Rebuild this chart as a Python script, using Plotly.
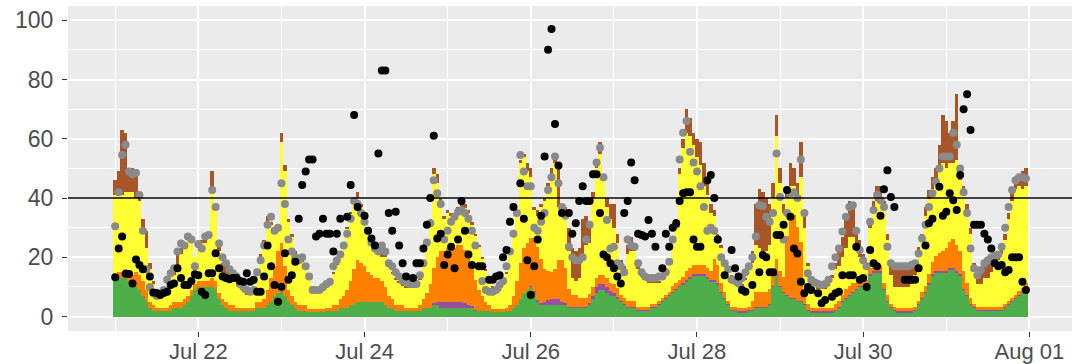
import pandas as pd
import plotly.graph_objects as go

# ---------------- data (hourly, Jul 21 00:00 .. Jul 31 23:00) ----------------
start_time = "2021-07-21 00:00"
n_hours = 264

green = [
    13, 13, 13, 13, 12, 10, 10, 9, 7, 5, 3, 2, 2, 2, 2, 2, 2, 3, 3, 3, 4, 5, 7, 9,
    10, 10, 10, 10, 10, 9, 6, 4, 3, 2, 2, 2, 2, 2, 2, 2, 2, 3, 3, 3, 4, 5, 7, 8,
    9, 7, 5, 4, 3, 2, 2, 2, 1.5, 1.5, 1.5, 1.5, 1.5, 2, 2, 2, 2, 3, 3, 3, 4, 4, 5, 5,
    5, 5, 5, 5, 5, 5, 4, 3, 3, 2, 2, 2, 2, 2, 2, 2, 2, 3, 3, 3, 4, 4, 3, 3,
    3, 3, 3, 3, 3, 3, 3, 3, 2, 2, 2, 2, 2, 1.5, 1.5, 1.5, 1.5, 2, 2, 3, 4, 6, 8, 9,
    10, 8, 5, 4, 4, 4, 4, 4, 4, 4, 4, 3, 3, 3, 3, 3, 3, 4, 6, 8, 9, 9, 8, 7,
    7, 6, 5, 4, 3, 3, 3, 2, 2, 2, 2, 3, 3, 4, 5, 6, 7, 8, 9, 10, 11, 12, 13, 14,
    14, 14, 14, 13, 12, 12, 11, 8, 6, 4, 2, 2, 1.5, 1.5, 1.5, 2, 2, 3, 3, 3, 3, 4, 10, 14,
    10, 8, 7, 6, 6, 5, 5, 4, 2, 1.5, 1.5, 1.5, 1.5, 1.5, 1.5, 1.5, 2, 3, 5, 6, 7, 8, 9, 10,
    10, 10, 14, 15, 15, 15, 9, 5, 3, 2, 1.5, 1.5, 1.5, 1.5, 1.5, 2, 4, 6, 8, 11, 14, 15, 15, 15,
    15, 16, 16, 15, 14, 9, 7, 4, 3, 2, 2, 2, 2, 2, 2, 2, 2, 3, 4, 5, 6, 7, 8, 9,
]

purple = (
    [0] * 24
    + [0] * 24
    + [0] * 24
    + [0] * 20 + [0.5, 1, 2, 2]
    + [2, 2, 2, 2, 2, 1.5, 1, 0.5, 0.3] + [0] * 15
    + [0.5, 0.5, 0.5, 0.5, 1, 1.5, 2, 2, 2, 1, 0.5, 0.3, 0.3, 0.3, 0.3, 0.3, 0.3, 0.5, 1, 2, 2, 2, 2, 1.5]
    + [1, 0.5] + [0.3] * 17 + [0.5] * 5
    + [0.5] * 5 + [0.3] * 19
    + [0.3] * 24
    + [0.3] * 24
    + [0.3] * 24
)

orange = [
    1, 2, 2, 3, 3, 4, 5, 5, 5, 4, 2, 2, 1, 1, 1, 1, 2, 2, 2, 2, 2, 2, 2, 2,
    2, 2, 2, 2, 3, 3, 2, 2, 2, 2, 2, 1, 1, 1, 1, 1, 1, 2, 2, 3, 5, 8, 10, 14,
    16, 10, 4, 3, 2, 2, 2, 2, 1, 1, 1, 1, 1, 1, 1, 2, 2, 3, 4, 6, 8, 12, 14, 13,
    12, 10, 9, 8, 8, 7, 6, 4, 3, 2, 2, 2, 1, 1, 1, 1, 2, 3, 5, 8, 12, 15, 17, 17,
    18, 18, 18, 19, 19, 18, 16, 13, 10, 7, 5, 3, 2, 1, 1, 1, 1, 1, 2, 4, 8, 12, 15, 16,
    16, 18, 18, 15, 11, 10, 9, 10, 13, 14, 12, 6, 4, 4, 3, 3, 3, 3, 3, 3, 3, 3, 3, 3,
    3, 3, 2, 2, 2, 2, 2, 1, 1, 1, 1, 1, 1, 1, 1, 1, 1, 2, 2, 2, 2, 3, 3, 3,
    3, 3, 3, 3, 3, 7, 6, 3, 2, 1, 1, 1, 1, 1, 1, 1, 3, 5, 5, 5, 5, 5, 5, 5,
    5, 5, 20, 28, 28, 25, 20, 5, 2, 1, 1, 1, 1, 1, 1, 1, 2, 2, 2, 3, 3, 3, 2, 2,
    2, 2, 2, 2, 2, 2, 2, 2, 1, 1, 1, 1, 1, 1, 1, 1, 1, 2, 2, 3, 4, 5, 6, 7,
    8, 9, 10, 9, 8, 6, 4, 2, 1, 1, 1, 1, 1, 1, 1, 1, 1, 1, 1, 1, 1, 1.5, 1.5, 2,
]

yellow = [
    27, 26, 26, 26, 27, 28, 25, 25, 16, 14, 11, 7, 5, 4, 5, 7, 8, 9, 10, 16, 18, 20, 17, 9,
    11, 13, 13, 15, 30, 24, 14, 8, 8, 8, 8, 9, 7, 5.5, 4.5, 4.5, 5.5, 9, 15, 19, 23, 18, 11.5, 7,
    34, 32, 23, 20, 16, 15.5, 14.7, 12.7, 10.2, 7.2, 6.2, 6.2, 6.2, 6.7, 7.7, 10.7, 13.7, 14.7, 17.7, 20.7, 22.7, 23, 21, 19,
    16, 14, 12, 11, 9, 8, 10, 10, 8.5, 8.5, 7.5, 6.5, 6.7, 6.7, 6.7, 7.7, 8.5, 11.5, 16, 21, 31.5, 25, 17, 11,
    12, 11, 10.5, 11, 13, 14, 15, 14.5, 15.2, 14.5, 12.7, 10.7, 7.7, 7.2, 6.2, 6.2, 8.2, 11.5, 17, 21, 23, 34, 31, 24,
    20.5, 9.5, 10.5, 17.5, 23, 28.5, 33, 36, 18, 16, 17.5, 12.7, 5.7, 4.7, 6.7, 14.7, 17.7, 17.5, 30, 37, 41, 32, 24, 21.5,
    19, 15.5, 9.7, 9.7, 15.7, 16.7, 16.7, 12.7, 10.2, 9.2, 8.2, 7.2, 7.2, 6.2, 6.2, 7.2, 9.7, 15.7, 20.7, 35.5, 43.5, 46.5, 44.5, 40.5,
    36.5, 33.5, 26.5, 24.5, 19.5, 14.7, 8.7, 11.7, 8.7, 9.7, 10.2, 8.2, 7.7, 7.7, 9.7, 12.7, 12.7, 15.7, 14.7, 13.7, 13.7, 14.7, 24.7, 41.7,
    29.7, 21.7, 12.7, 9.7, 9.7, 10.7, 21.7, 20.7, 12.7, 9.2, 7.7, 6.7, 6.7, 6.7, 7.7, 10.2, 11.7, 11.7, 12.7, 13.7, 16.7, 15.7, 10.7, 7.7,
    6.7, 3.7, 13.7, 17.7, 21.7, 21.7, 24.7, 18.7, 9.7, 6.7, 7.2, 7.2, 7.2, 7.2, 8.2, 10.7, 15.3, 17.7, 23.7, 25.4, 24.7, 24.7, 28.7, 29.7,
    26.7, 26.7, 25.7, 28.7, 23.7, 25.7, 23.7, 21.7, 10.7, 7.7, 7.7, 9.7, 9.7, 11.7, 13.7, 15.7, 17.7, 21.7, 27.7, 32.7, 35.7, 35.2, 33.2, 32.7,
]

brown = [
    5, 8, 22, 20, 8, 8, 9, 3, 5, 6, 2, 1, 0, 0, 0, 0, 0, 1, 7, 2, 1, 1, 1, 0,
    1, 1, 1, 1, 6, 2, 3, 4, 4, 4, 3, 2, 1, 0.5, 0.5, 0.5, 0.5, 1, 1, 1, 2, 1, 0.5, 1,
    3, 2, 1, 1, 1, 0.5, 0.3, 0.3, 0.3, 0.3, 0.3, 0.3, 0.3, 0.3, 0.3, 0.3, 0.3, 0.3, 0.3, 0.3, 0.3, 1, 2, 1,
    1, 1, 1, 1, 2, 3, 1, 1, 0.5, 0.5, 0.5, 0.5, 0.3, 0.3, 0.3, 0.3, 0.5, 0.5, 1, 1, 2, 3, 1, 1,
    1, 1, 1.5, 2, 2, 1.5, 1, 1, 0.5, 0.5, 0.3, 0.3, 0.3, 0.3, 0.3, 0.3, 0.3, 0.5, 1, 1, 1, 1, 1, 3,
    3, 1, 2, 1, 1, 1, 2, 3, 15, 3, 3, 8, 10, 10, 10, 12, 10, 5, 2, 2, 4, 2, 3, 5,
    8, 3, 2, 1, 3, 5, 2, 1, 0.5, 0.5, 0.5, 0.5, 0.5, 0.5, 0.5, 0.5, 1, 1, 1, 2, 3, 8, 6, 4,
    6, 8, 8, 4, 3, 2, 2, 1, 1, 1, 0.5, 0.5, 0.5, 0.5, 0.5, 1, 4, 14, 20, 20, 18, 14, 5, 7,
    5, 3, 2, 8, 6, 4, 12, 5, 1, 1, 0.5, 0.5, 0.5, 0.5, 0.5, 1, 2, 5, 7, 10, 12, 10, 8, 6,
    2, 2, 3, 4, 5, 5, 3, 2, 5, 8, 8, 8, 8, 8, 7, 5, 3, 2, 3, 3, 4, 5, 8, 16,
    16, 10, 14, 22, 4, 3, 3, 2, 3, 4, 5, 5, 5, 4, 3, 2, 2, 2, 2, 3, 3, 4, 6, 6,
]

grey_points = [
    30.5, 42, 54.5, 58, 49, 48, 48.5, 41, 29, 16, 10, 8, 7, 7.5, 9, 12.4, 14.6, 16.3, 22, 24.7, 24, 27, 26, 17,
    24.5, 23, 27, 27.5, 42.7, 37, 24.7, 20, 18, 16, 14.6, 13.5, 11, 10, 9, 8.4, 9, 15, 19, 24, 31, 33.7, 29, 30,
    45, 38, 26, 22, 20, 19, 20, 17, 13.5, 9, 9, 9, 10, 11, 11.8, 17, 19, 21, 24, 28, 33, 39, 38, 35,
    32, 29, 25, 23, 22, 24, 22, 18, 17, 15, 13.5, 12, 11.8, 11, 11, 11, 14, 18, 25, 31.5, 46, 41.6, 38, 26,
    29, 32, 33.7, 35.4, 36, 35, 33, 29, 24, 17, 12, 9, 8.4, 8.4, 9, 10.7, 12, 17, 22, 28, 35, 54.5, 49, 44,
    44, 30, 29, 32, 35, 42.7, 47, 54, 45, 37, 34, 23.6, 20, 19, 19, 20, 26, 31, 48, 52, 57, 47, 32.6, 23,
    23.6, 18, 17, 15, 26, 24, 23.6, 18, 15, 13.5, 13, 13, 13, 13.5, 13.5, 15, 18.5, 26, 31, 53, 62, 66, 55.6, 52,
    49, 44, 37, 29, 30, 29, 26, 20, 18, 16, 12.4, 12, 11.2, 13, 15, 17, 20, 27, 37.6, 37.3, 33.7, 32, 35, 55,
    40.4, 26, 35, 41.6, 42, 40, 53, 35, 14.6, 12.4, 11.5, 11, 10.7, 11, 12.4, 17, 20, 23, 28.7, 33.7, 37, 37.6, 29, 22.5,
    19, 17, 32, 36, 41, 39.3, 37, 23.6, 18, 17, 17, 17, 17, 17, 17.5, 18, 21.3, 26.4, 31, 37, 41.6, 45.5, 50, 54,
    54, 54, 62, 58, 50, 42, 35, 23, 16.3, 14, 15.7, 18, 19, 20, 20.5, 21, 23.6, 30, 37, 42.7, 46, 47, 47, 46.6,
]

N = None
black_points = [
    13.3, 23, 27, 14.5, 14.4, 11.2, 19.3, 17.4, 16, N, 13.5, 8.1, 8, 7.3, 8, 8.4, 10.7, 11.2, 16.3, 13, 10.7, 10.7, 12, 14.3,
    14, 8.4, 7.3, 14.6, 14.6, 21.4, 16.3, 13.5, 13, 12.6, 13, 13, 12, 11.8, 14.6, 11.8, 12.4, 8.4, 8.4, 13.5, 24, 17, 10.7, 5,
    10.1, 21.4, 12.4, 14, 18.5, 33, 44.4, 49, 53, 53, 27, 28, 33, 28, 28, 22, 28, 33, N, 33.7, 44.4, 68, 37, N,
    34, 29, 26.4, 24, 55, 83, 83, 35, 29, 35.4, 24, 18, 13.5, N, 13, 18, 18, 23, 31, 40, 61, 26.4, 28, 17.4,
    21, 23.6, 16.3, 26, 39, 29, 21, 17.4, N, 17, 17, N, 12.4, 12.4, 13.5, 14, 20, 22.5, 32, 37, N, 45, 33, 19,
    7.3, 17, 26, 34, 54, 90, 97, 65, 51, 35, N, 35, 28, 31.5, 39, 44, 39, 39, 48, 48, 35, 21, 20, 18,
    16.3, 13.5, 11.2, 35, 39, 52, 46, 28, 27.5, 27, 32.6, 28, 23.6, N, 16.3, 28, 23.6, 30, 31.5, 39, 41.6, 42, 42, 26,
    23.6, 23.6, N, 46, 47.8, 40, 26, N, 14, N, 22.5, 16.3, 13.5, 9, 8.4, N, 10.7, N, 15, 20.8, 20, 15, 15, 27.5,
    27.5, 31, 42.7, 33.7, 23, 21.3, 11.8, 7.9, 10, 9, N, 7.9, 4.5, 5.6, N, 6.7, 7.9, 8.4, 14, N, 14, 14, 23.6, 12.4,
    13, 10, 22.5, 18, 17, 34, 43, 49.4, 40.4, 37, N, N, 12.4, 12.4, 12.4, 12.4, 16.3, N, 24, 31.5, 33, N, 43.8, 34,
    35.4, 41.6, 39.3, 36, 47.8, 70, 75, 63, 31, 31, 31, 28, 26, 23, 18, 17, 17.4, 15, 15.7, 20, 20, 20, 11.8, 9,
]

threshold = 40

tick_dates = ["2021-07-22", "2021-07-24", "2021-07-26", "2021-07-28", "2021-07-30", "2021-08-01"]
tick_labels = ["Jul 22", "Jul 24", "Jul 26", "Jul 28", "Jul 30", "Aug 01"]
minor_dates = ["2021-07-21", "2021-07-23", "2021-07-25", "2021-07-27", "2021-07-29", "2021-07-31"]
y_ticks = [0, 20, 40, 60, 80, 100]
y_minor = [10, 30, 50, 70, 90]

# ---------------- figure ----------------
times = pd.date_range(start_time, periods=n_hours, freq="h")
hour_ms = 3600 * 1000

layers = [
    ("green", green, "#4DAF4A"),
    ("purple", purple, "#984EA3"),
    ("orange", orange, "#FF7F00"),
    ("yellow", yellow, "#FFFF33"),
    ("brown", brown, "#A65628"),
]

fig = go.Figure()
for name, vals, col in layers:
    fig.add_trace(go.Bar(
        x=times, y=vals, name=name, width=hour_ms,
        marker=dict(color=col, line=dict(width=0)),
        showlegend=False,
    ))

fig.add_trace(go.Scatter(
    x=times, y=grey_points, mode="markers",
    marker=dict(color="#8A8A8A", size=8, line=dict(width=0)),
    showlegend=False,
))
fig.add_trace(go.Scatter(
    x=times, y=black_points, mode="markers",
    marker=dict(color="black", size=8, line=dict(width=0)),
    showlegend=False,
))

fig.add_hline(y=threshold, line=dict(color="black", width=1.6))

axis_font = dict(family="Liberation Sans, Arial, sans-serif", size=22, color="#4D4D4D")

fig.update_layout(
    template="none",
    width=1077, height=364,
    margin=dict(l=68, r=5, t=6, b=33, autoexpand=False),
    barmode="stack", bargap=0,
    paper_bgcolor="white", plot_bgcolor="#EBEBEB",
    xaxis=dict(
        type="date", automargin=False,
        range=["2021-07-20 10:22", "2021-08-01 12:18"],
        tickvals=tick_dates, ticktext=tick_labels,
        ticks="outside", ticklen=5, tickwidth=1, tickcolor="#333333",
        tickfont=axis_font, ticklabelstandoff=-4,
        showgrid=True, gridcolor="white", gridwidth=1.6,
        minor=dict(tickvals=minor_dates, showgrid=True, gridcolor="white", gridwidth=0.8, ticks=""),
        zeroline=False, showline=False,
    ),
    yaxis=dict(
        automargin=False,
        range=[-4.85, 104.8],
        tickvals=y_ticks,
        ticks="outside", ticklen=5, tickwidth=1, tickcolor="#333333",
        tickfont=dict(family="Liberation Sans, Arial, sans-serif", size=23, color="#4D4D4D"),
        ticklabelstandoff=4,
        showgrid=True, gridcolor="white", gridwidth=1.6,
        minor=dict(tickvals=y_minor, showgrid=True, gridcolor="white", gridwidth=0.8, ticks=""),
        zeroline=False, showline=False,
    ),
)

fig.write_html(
    "out.html",
    config={"displayModeBar": False},
    post_script="document.body.style.margin='0';document.body.style.overflow='hidden';",
)
